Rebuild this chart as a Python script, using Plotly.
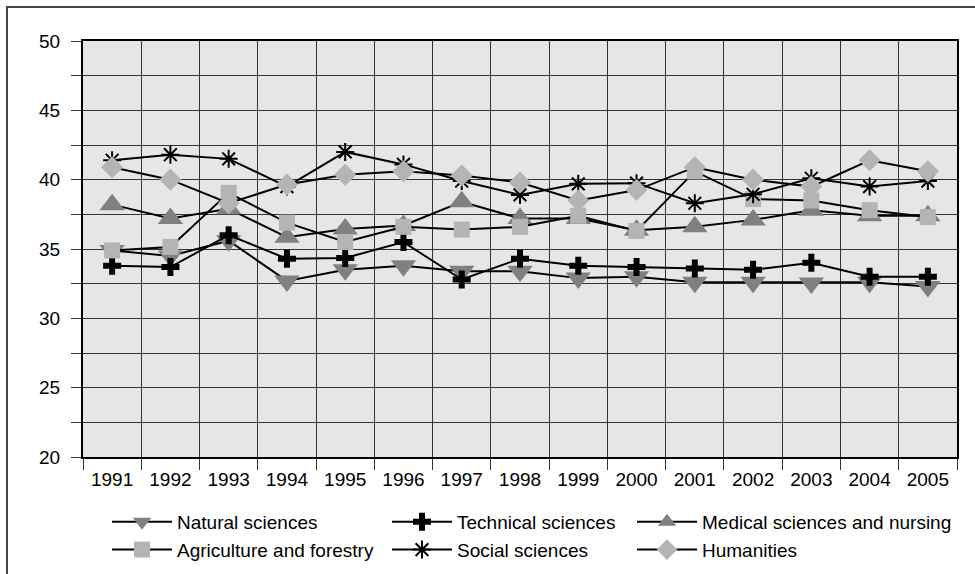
import plotly.graph_objects as go

years = [str(y) for y in range(1991, 2006)]

natural = [34.9, 34.5, 35.6, 32.7, 33.5, 33.8, 33.4, 33.4, 32.9, 33.0, 32.6, 32.6, 32.55, 32.6, 32.3]
technical = [33.8, 33.7, 36.0, 34.3, 34.35, 35.5, 32.8, 34.3, 33.8, 33.7, 33.6, 33.5, 34.0, 33.0, 33.0]
medical = [38.2, 37.2, 37.9, 35.85, 36.45, 36.7, 38.4, 37.2, 37.2, 36.35, 36.6, 37.1, 37.8, 37.4, 37.4]
agriculture = [34.9, 35.15, 39.05, 36.9, 35.5, 36.6, 36.4, 36.6, 37.4, 36.3, 40.6, 38.6, 38.5, 37.8, 37.3]
social = [41.4, 41.8, 41.5, 39.5, 42.0, 41.1, 39.9, 38.9, 39.7, 39.75, 38.3, 38.95, 40.1, 39.5, 39.9]
humanities = [40.9, 40.0, 38.3, 39.65, 40.35, 40.6, 40.3, 39.8, 38.5, 39.25, 40.9, 40.0, 39.5, 41.4, 40.6]

FONT = "Liberation Sans Narrow, Arial Narrow, Liberation Sans, sans-serif"
DARK = "#808080"
LIGHT = "#b4b4b4"

series = [
    ("Natural sciences", natural, "triangle-down", DARK, 22, "legend"),
    ("Technical sciences", technical, "cross", "black", 15, "legend2"),
    ("Medical sciences and nursing", medical, "triangle-up", DARK, 22, "legend3"),
    ("Agriculture and forestry", agriculture, "square", LIGHT, 16, "legend"),
    ("Social sciences", social, "asterisk-open", "black", 15, "legend2"),
    ("Humanities", humanities, "diamond", LIGHT, 17, "legend3"),
]

fig = go.Figure()
for name, vals, sym, col, size, leg in series:
    mk = dict(symbol=sym, size=size, color=col)
    if sym == "asterisk-open":
        mk["line"] = dict(color="black", width=2)
    else:
        mk["line"] = dict(width=0)
    fig.add_trace(go.Scatter(
        x=years, y=vals, mode="lines+markers", name=name,
        line=dict(color="black", width=2), marker=mk, legend=leg,
    ))

L, R, T, B = 83, 18, 41, 117
W, H = 975, 574
pw, ph = W - L - R, H - T - B

def px_x(p):
    return (p - L) / pw

def px_y(p):
    return (H - B - p) / ph

legend_common = dict(
    orientation="v", xanchor="left", yanchor="top",
    font=dict(family=FONT, size=19, color="black"),
    bgcolor="rgba(0,0,0,0)", borderwidth=0, itemwidth=60,
    tracegroupgap=0,
)

fig.update_layout(
    width=W, height=H,
    margin=dict(l=L, r=R, t=T, b=B, autoexpand=False),
    paper_bgcolor="white",
    plot_bgcolor="#e6e6e6",
    font=dict(family=FONT, size=19, color="black"),
    legend=dict(x=px_x(107), y=px_y(503), **legend_common),
    legend2=dict(x=px_x(387), y=px_y(503), **legend_common),
    legend3=dict(x=px_x(632), y=px_y(503), **legend_common),
    xaxis=dict(
        type="category", range=[-0.5, len(years) - 0.5],
        tickson="boundaries", ticks="outside", ticklen=11,
        tickcolor="#333", tickwidth=1,
        showgrid=True, gridcolor="#333", gridwidth=1,
        showline=True, linecolor="black", linewidth=2, mirror=True,
        tickfont=dict(family=FONT, size=19), ticklabelstandoff=4,
    ),
    yaxis=dict(
        range=[20, 50], dtick=5, tick0=20, ticks="outside", ticklen=10,
        tickcolor="#333", tickwidth=1,
        showgrid=True, gridcolor="#333", gridwidth=1,
        minor=dict(dtick=2.5, showgrid=True, gridcolor="#333", gridwidth=1,
                   ticks="outside", ticklen=10, tickcolor="#333"),
        showline=True, linecolor="black", linewidth=2, mirror=True,
        zeroline=False, ticklabelstandoff=7,
        tickfont=dict(family=FONT, size=19),
    ),
    shapes=[dict(
        type="rect", xref="paper", yref="paper",
        x0=px_x(7), y0=px_y(H + 50), x1=px_x(W + 50), y1=px_y(7),
        line=dict(color="#444", width=2), fillcolor="rgba(0,0,0,0)", layer="below",
    )],
)

fig.write_html("out.html", config={"displayModeBar": False},
               post_script="document.body.style.margin='0';")
